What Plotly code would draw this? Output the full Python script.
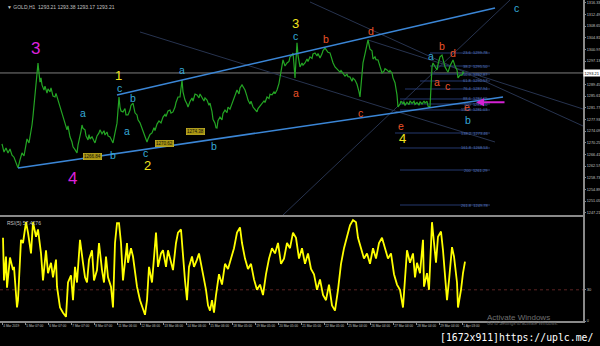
import plotly.graph_objects as go

# ---------------- data ----------------
# GOLD H1 close prices (bar index, price)
bar_x = [2, 4, 6, 8, 10, 12, 14, 16, 18, 20, 22, 24, 26, 27, 29, 30, 32, 33, 35, 36, 37, 38, 39, 40, 41, 42, 44, 45, 47, 48,
         50, 51, 53, 55, 56, 58, 60, 62, 63, 65, 67, 68, 70, 72, 73, 75, 77, 78, 80, 81, 82, 83, 85, 86, 88, 89, 90, 92, 94, 95,
         97, 99, 100, 102, 104, 105, 107, 108, 110, 112, 113, 115, 117, 118, 119, 120, 121, 123, 125, 126, 128, 130, 131, 133, 134, 135, 137, 138, 140, 142,
         143, 145, 147, 148, 150, 152, 154, 155, 157, 159, 161, 163, 165, 166, 168, 170, 171, 173, 175, 176, 178, 180, 181, 182, 183, 184, 185, 187, 188, 190,
         192, 193, 195, 197, 199, 200, 202, 204, 205, 207, 209, 210, 212, 213, 215, 216, 217, 218, 220, 222, 223, 225, 227, 228, 230, 232, 234, 235, 237, 239,
         240, 242, 244, 245, 247, 248, 250, 251, 253, 255, 257, 258, 260, 262, 264, 265, 267, 269, 270, 272, 274, 275, 277, 279, 280, 282, 283, 285, 287, 289,
         290, 292, 293, 294, 295, 296, 297, 298, 300, 302, 303, 305, 307, 308, 310, 312, 313, 315, 317, 318, 320, 322, 323, 325, 327, 328, 330, 332, 333, 335,
         337, 338, 340, 341, 343, 345, 347, 348, 350, 352, 353, 355, 357, 358, 359, 360, 361, 363, 365, 366, 368, 369, 370, 372, 373, 375, 376, 378, 380, 381,
         382, 384, 385, 387, 389, 390, 392, 393, 395, 396, 397, 398, 400, 401, 403, 404, 405, 407, 409, 410, 412, 414, 415, 417, 419, 420, 422, 424, 425, 427,
         428, 430, 431, 432, 433, 435, 437, 438, 440, 442, 443, 445, 447, 448, 450, 452, 453, 455, 457, 458, 460, 462, 463, 464]
price = [1269.9, 1267.2, 1268.5, 1266.9, 1268.2, 1266.2, 1265.5, 1263.5, 1262.0, 1264.6, 1266.9, 1265.9, 1270.5, 1271.5, 1270.2, 1271.8, 1276.1, 1279.0, 1286.6, 1290.9, 1295.2, 1296.5, 1293.2, 1290.2, 1291.6, 1289.3, 1287.6, 1288.9, 1286.6, 1288.0,
         1287.0, 1288.3, 1285.6, 1285.3, 1286.5, 1284.3, 1281.7, 1280.0, 1278.7, 1276.0, 1274.5, 1275.8, 1272.2, 1270.5, 1268.9, 1268.0, 1266.9, 1269.5, 1272.2, 1274.0, 1276.1, 1275.0, 1274.5, 1272.5, 1271.2, 1272.9, 1271.5, 1272.2, 1270.8, 1270.2,
         1272.5, 1273.5, 1274.5, 1273.2, 1274.2, 1272.8, 1273.8, 1272.5, 1272.2, 1270.8, 1270.2, 1273.5, 1276.7, 1281.0, 1285.3, 1282.0, 1280.7, 1280.4, 1281.5, 1279.4, 1279.4, 1281.0, 1282.6, 1283.3, 1281.7, 1280.1, 1279.4, 1277.8, 1276.8, 1275.0,
         1273.5, 1271.8, 1270.5, 1271.5, 1273.0, 1273.5, 1275.2, 1274.3, 1276.4, 1277.4, 1276.8, 1278.7, 1279.6, 1278.9, 1280.7, 1281.0, 1280.0, 1280.4, 1282.0, 1283.5, 1285.3, 1285.3, 1288.5, 1290.9, 1287.0, 1285.0, 1284.3, 1283.0, 1282.0, 1283.8,
         1285.0, 1284.0, 1286.3, 1286.0, 1285.0, 1286.3, 1285.3, 1284.0, 1285.0, 1284.3, 1282.6, 1283.3, 1280.5, 1278.0, 1276.7, 1275.2, 1275.1, 1277.5, 1278.7, 1277.8, 1279.9, 1281.0, 1280.2, 1282.0, 1281.3, 1283.3, 1284.6, 1286.0, 1287.6, 1286.3,
         1288.3, 1289.3, 1288.0, 1287.6, 1285.5, 1284.3, 1283.0, 1283.9, 1282.0, 1281.0, 1280.4, 1281.5, 1282.3, 1283.3, 1284.0, 1283.5, 1285.3, 1284.8, 1286.2, 1286.0, 1287.0, 1286.4, 1287.6, 1289.8, 1291.9, 1296.0, 1297.5, 1295.5, 1296.5, 1297.0,
         1298.5, 1299.0, 1299.8, 1296.0, 1291.6, 1297.5, 1303.1, 1299.0, 1295.2, 1296.5, 1295.8, 1296.5, 1297.8, 1297.0, 1298.5, 1298.0, 1299.5, 1299.8, 1298.8, 1299.6, 1298.1, 1299.5, 1300.6, 1301.4, 1300.5, 1300.0, 1299.8, 1297.5, 1296.6, 1295.2,
         1294.5, 1294.2, 1293.5, 1294.0, 1293.2, 1292.2, 1292.8, 1292.0, 1291.9, 1290.5, 1291.5, 1290.9, 1289.5, 1288.6, 1287.0, 1285.3, 1290.0, 1296.5, 1299.5, 1301.5, 1304.1, 1302.5, 1301.0, 1300.5, 1297.8, 1298.5, 1297.6, 1297.5, 1295.5, 1294.9,
         1293.2, 1293.8, 1294.6, 1294.2, 1293.5, 1294.0, 1293.2, 1291.6, 1290.0, 1288.0, 1286.0, 1282.0, 1283.0, 1284.0, 1283.0, 1283.8, 1282.5, 1283.6, 1282.8, 1284.0, 1283.2, 1283.9, 1282.9, 1283.5, 1282.6, 1283.8, 1283.0, 1284.0, 1283.3, 1283.9,
         1282.3, 1282.0, 1290.0, 1295.2, 1296.5, 1295.5, 1294.2, 1296.0, 1298.5, 1299.1, 1297.5, 1295.2, 1294.0, 1293.5, 1295.5, 1296.8, 1297.5, 1295.5, 1294.2, 1291.6, 1292.5, 1292.5, 1293.5, 1293.2]

# RSI(5)
rsi_x = [3, 4, 6, 7, 10, 13, 14, 17, 18, 21, 23, 26, 28, 31, 33, 36, 38, 41, 43, 46, 48, 51, 53, 56, 57, 60, 63, 66, 68, 71,
         73, 75, 77, 80, 83, 85, 87, 89, 92, 94, 97, 99, 102, 104, 106, 108, 111, 113, 115, 117, 119, 121, 123, 125, 127, 128, 131, 133, 135, 137,
         140, 143, 145, 147, 149, 152, 154, 156, 158, 161, 163, 166, 168, 171, 173, 176, 178, 181, 183, 185, 187, 189, 192, 194, 197, 199,
         203, 206, 208, 210, 212, 214, 216, 219, 222, 225, 228, 231, 234, 237, 240, 242, 245, 248, 251, 254, 257, 260, 263, 266, 269, 272, 275, 278,
         281, 284, 287, 290, 293, 296, 299, 302, 305, 308, 311, 314, 317, 320, 323, 326, 329, 332, 335, 338, 341, 344, 347, 350, 353, 356, 358,
         361, 364, 367, 370, 373, 376, 379, 382, 385, 388, 391, 394, 397, 400, 403, 405, 407, 410, 413, 415, 417, 420, 423, 424, 427, 429,
         432, 433, 436, 438, 441, 443, 445, 447, 449, 452, 454, 457, 458, 461, 463, 465]
rsi = [80, 39, 62, 32, 61, 49, 52, 13, 20, 78, 75, 95, 85, 65, 95, 81, 88, 65, 39, 68, 46, 56, 42, 59, 33, 13, 8, 4, 37, 44,
       20, 52, 37, 78, 56, 42, 37, 59, 68, 39, 49, 75, 49, 37, 62, 42, 33, 13, 75, 94, 94, 75, 39, 59, 75, 56, 70, 62, 46, 33,
       20, 11, 6, 20, 52, 37, 62, 85, 52, 65, 68, 52, 68, 56, 49, 75, 85, 88, 59, 39, 20, 52, 62, 52, 59, 65,
       45, 30, 15, 10, 20, 8, 25, 45, 35, 55, 50, 60, 70, 85, 90, 75, 60, 50, 55, 40, 30, 35, 25, 45, 60, 70, 65, 75,
       55, 60, 75, 70, 85, 80, 60, 70, 55, 65, 50, 45, 30, 40, 25, 20, 35, 15, 10, 30, 55, 70, 80, 92, 97, 95, 80,
       70, 60, 65, 55, 70, 60, 75, 80, 70, 60, 65, 45, 35, 30, 13, 39, 68, 56, 65, 42, 56, 46, 78, 33, 46, 30,
       95, 85, 56, 81, 86, 68, 46, 20, 39, 71, 62, 37, 13, 30, 46, 57]

# channel (wave) lines: [x0, x1], [p0, p1]
lower_ch_x = [18, 503]
lower_ch_p = [1261.95, 1285.31]
upper_ch_x = [117, 495]
upper_ch_p = [1285.96, 1314.58]

# faint trend lines
faint_x = [[140, 495], [310, 583], [283, 510], [368, 583]]
faint_p = [[1306.69, 1270.50], [1316.56, 1275.77], [1246.49, 1317.21], [1304.06, 1281.36]]

# fibonacci levels
fib_x0 = [430, 430, 430, 420, 405, 400, 400, 400, 395, 400, 400, 400]
fib_x1 = 490
fib_p = [1299.78, 1295.50, 1292.87, 1290.57, 1287.94, 1284.65, 1283.00, 1281.03, 1273.46, 1268.53, 1261.29, 1249.78]
fib_lbl = ["23.6  1299.78", "38.2  1295.50", "50.0  1292.87", "61.8  1290.57", "76.4  1287.94", "88.6  1284.65",
           "100  1283.00", "112.8  1281.03", "138.2  1273.46", "161.8  1268.53", "200  1261.29", "261.8  1249.78"]

# wave labels: text, bar, price, colour-group
wave_txt = ["3", "4", "1", "2", "3", "4",
            "a", "b", "c", "a", "b", "c", "a", "b", "c", "a", "b", "c",
            "a", "b", "c", "d", "e", "a", "b", "c", "d", "e"]
wave_x = [35, 72, 118, 147, 295, 402,
          83, 113, 119, 127, 133, 145, 182, 214, 295, 431, 468, 516,
          296, 326, 360, 371, 401, 437, 442, 447, 453, 467]
wave_p = [1301.42, 1258.66, 1292.54, 1262.61, 1309.32, 1271.50,
          1280.04, 1266.23, 1288.27, 1274.12, 1284.98, 1266.88, 1294.19, 1269.19, 1305.37, 1298.79, 1277.90, 1314.58,
          1286.62, 1304.38, 1280.04, 1307.02, 1275.90, 1290.24, 1302.08, 1288.92, 1299.78, 1282.00]
wave_grp = ["m", "m", "y", "y", "y", "y"] + ["b"] * 12 + ["r"] * 10

# yellow price boxes
box_x = [92, 164, 195]
box_p = [1265.57, 1270.17, 1274.12]
box_txt = ["1266.84", "1270.62", "1274.38"]

# axes ticks
price_ticks = [1316.33, 1312.49, 1308.65, 1304.81, 1300.97, 1297.13, 1289.45, 1285.61, 1281.77, 1277.93,
               1274.09, 1270.25, 1266.41, 1262.57, 1258.73, 1254.89, 1251.05, 1247.21]
time_ticks = [2, 25, 48, 71, 94, 117, 140, 163, 186, 209, 232, 255, 278, 301, 324, 347, 370, 393, 416, 439, 462]
time_lbls = ["4 Mar 2019", "5 Mar 07:00", "6 Mar 07:00", "7 Mar 07:00", "8 Mar 07:00", "11 Mar 06:00", "12 Mar 06:00",
             "13 Mar 06:00", "14 Mar 06:00", "15 Mar 06:00", "18 Mar 05:00", "19 Mar 05:00", "20 Mar 05:00",
             "21 Mar 05:00", "22 Mar 05:00", "25 Mar 04:00", "26 Mar 04:00", "27 Mar 04:00", "28 Mar 04:00",
             "29 Mar 04:00", "1 Apr 03:00"]
current_price = 1293.21
rsi_level = 30

# ---------------- figure ----------------
GREEN = "#24a524"
CHBLUE = "#3b86d6"
FAINT = "#27334f"
FIB = "#24386e"
FIBTXT = "#5574b8"
AXIS = "#8a8a8a"
TXT = "#c0c0c0"
colors = {"m": "#dd22dd", "y": "#f2e41e", "b": "#35a9d9", "r": "#ec5328"}
sizes = {"m": 17, "y": 13, "b": 10.5, "r": 10.5}

fig = go.Figure()

fig.add_trace(go.Scatter(x=[0, 583], y=[current_price, current_price], mode="lines",
                         line=dict(color="#7d7d7d", width=1), hoverinfo="skip"))
for fx, fp in zip(faint_x, faint_p):
    fig.add_trace(go.Scatter(x=fx, y=fp, mode="lines", line=dict(color=FAINT, width=1), hoverinfo="skip"))
for x0, p in zip(fib_x0, fib_p):
    fig.add_trace(go.Scatter(x=[x0, fib_x1], y=[p, p], mode="lines", line=dict(color=FIB, width=1), hoverinfo="skip"))
fig.add_trace(go.Scatter(x=bar_x, y=price, mode="lines", line=dict(color=GREEN, width=1.2), hoverinfo="skip"))
fig.add_trace(go.Scatter(x=lower_ch_x, y=lower_ch_p, mode="lines", line=dict(color=CHBLUE, width=1.6), hoverinfo="skip"))
fig.add_trace(go.Scatter(x=upper_ch_x, y=upper_ch_p, mode="lines", line=dict(color=CHBLUE, width=1.6), hoverinfo="skip"))
fig.add_trace(go.Scatter(x=[0, 583], y=[rsi_level, rsi_level], mode="lines", xaxis="x2", yaxis="y2",
                         line=dict(color="#5a2323", width=1, dash="dot"), hoverinfo="skip"))
fig.add_trace(go.Scatter(x=rsi_x, y=rsi, mode="lines", xaxis="x2", yaxis="y2",
                         line=dict(color="#ffff00", width=1.8), hoverinfo="skip"))

ann = []
for t, x, p, g in zip(wave_txt, wave_x, wave_p, wave_grp):
    ann.append(dict(x=x, y=p, xref="x", yref="y", text=t, showarrow=False,
                    font=dict(family="Liberation Sans", size=sizes[g], color=colors[g])))
for x0, p, lbl in zip(fib_x0, fib_p, fib_lbl):
    ann.append(dict(x=fib_x1, y=p, xref="x", yref="y", text=lbl, showarrow=False, xanchor="right",
                    yanchor="middle", font=dict(family="Liberation Sans", size=4, color=FIBTXT)))
for x, p, t in zip(box_x, box_p, box_txt):
    ann.append(dict(x=x, y=p, xref="x", yref="y", text=t, showarrow=False, bgcolor="#a89410",
                    bordercolor="#e0cc30", borderwidth=0.5, borderpad=0.5,
                    font=dict(family="Liberation Sans", size=4.5, color="#111111")))
ann.append(dict(x=476, y=1283.6, ax=506, ay=1283.6, xref="x", yref="y", axref="x", ayref="y",
                text="", showarrow=True, arrowhead=2, arrowsize=0.8, arrowwidth=2, arrowcolor="#d422d4"))
ann.append(dict(x=1.0, y=current_price, xref="paper", yref="y", text="1293.21", showarrow=False,
                xanchor="left", yanchor="middle", bgcolor="#ffffff", borderpad=0.5,
                font=dict(family="Liberation Sans", size=4, color="#000000")))
ann.append(dict(x=0.008, y=1.0, xref="paper", yref="paper", text="\u25bc GOLD,H1  1293.21 1293.38 1293.17 1293.21",
                showarrow=False, xanchor="left", yanchor="top", yshift=-2,
                font=dict(family="Liberation Sans", size=5, color=TXT)))
ann.append(dict(x=0.008, y=0.324, xref="paper", yref="paper", text="RSI(5) 57.4276",
                showarrow=False, xanchor="left", yanchor="top", yshift=-1,
                font=dict(family="Liberation Sans", size=5, color=TXT)))
ann.append(dict(x=485 / 583, y=(321 - 317) / 321, xref="paper", yref="paper", text="Activate Windows",
                showarrow=False, xanchor="left", yanchor="middle",
                font=dict(family="Liberation Sans", size=8, color="#6f6f6f")))
ann.append(dict(x=485 / 583, y=(321 - 323.5) / 321, xref="paper", yref="paper",
                text="Go to Settings to activate Windows.", showarrow=False, xanchor="left", yanchor="middle",
                font=dict(family="Liberation Sans", size=4.5, color="#5f5f5f")))
ann.append(dict(x=438 / 583, y=(321 - 337) / 321, xref="paper", yref="paper",
                text="[1672x911]https://uplc.me/", showarrow=False, xanchor="left", yanchor="middle",
                font=dict(family="DejaVu Sans Mono", size=9.8, color="#ffffff")))

fig.update_layout(
    width=600, height=346, autosize=False,
    margin=dict(l=0, r=17, t=0, b=25, pad=0),
    paper_bgcolor="#000000", plot_bgcolor="#000000",
    showlegend=False, annotations=ann,
    xaxis=dict(domain=[0, 1], range=[0, 583], anchor="y", showticklabels=False, showgrid=False,
               zeroline=False, showline=True, linecolor=AXIS, linewidth=2, ticks="", automargin=False),
    yaxis=dict(domain=[(321 - 215) / 321, 1], range=[1246.49, 1317.21], side="right",
               tickvals=price_ticks, ticktext=["%.2f" % v for v in price_ticks], anchor="x",
               tickfont=dict(family="Liberation Sans", size=3.8, color=TXT), showgrid=False, zeroline=False,
               showline=True, linecolor=AXIS, linewidth=2, ticks="outside", ticklen=1, tickcolor=AXIS,
               automargin=False),
    xaxis2=dict(domain=[0, 1], range=[0, 583], anchor="y2", tickvals=time_ticks, ticktext=time_lbls,
                ticklabelposition="outside right", tickangle=0,
                tickfont=dict(family="Liberation Sans", size=3.2, color=TXT), showgrid=False, zeroline=False,
                showline=True, linecolor=AXIS, linewidth=1.5, ticks="outside", ticklen=2, tickcolor=AXIS,
                automargin=False),
    yaxis2=dict(domain=[0, (321 - 217) / 321], range=[0, 100], side="right", anchor="x2",
                tickvals=[rsi_level, 0], ticktext=["30", "0"],
                tickfont=dict(family="Liberation Sans", size=4, color=TXT), showgrid=False, zeroline=False,
                showline=True, linecolor=AXIS, linewidth=2, ticks="outside", ticklen=1, tickcolor=AXIS,
                automargin=False),
)

fig.write_html("out.html")
